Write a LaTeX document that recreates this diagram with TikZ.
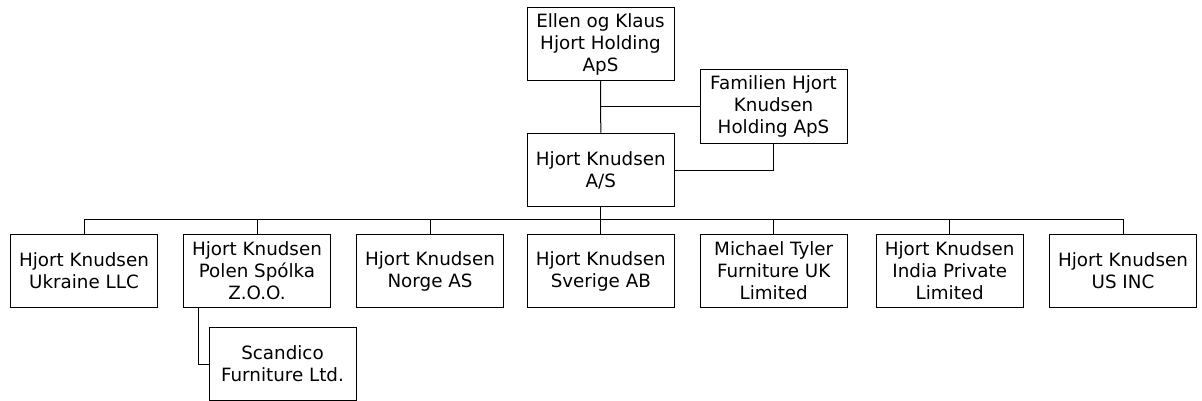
\documentclass[tikz,border=0pt]{standalone}
\usepackage{fontspec}
\setmainfont{DejaVu Sans}
\begin{document}
\begin{tikzpicture}[x=1pt,y=-1pt,
  orgbox/.style={draw=black, line width=1pt, fill=white, rectangle, minimum width=147pt, minimum height=73.5pt,
    inner sep=0pt, align=center, font=\fontsize{18.3}{22}\selectfont},
  link/.style={draw=black, line width=1pt}]
\useasboundingbox (0,0) rectangle (1202,401);
\node[orgbox] (ellen) at (600.5,44) {Ellen og Klaus\\Hjort Holding\\ApS};
\node[orgbox] (fam) at (773.5,106.7) {Familien Hjort\\Knudsen\\Holding ApS};
\node[orgbox] (as) at (600.8,170) {Hjort Knudsen\\A/S};
\node[orgbox] (c1) at (84,271) {Hjort Knudsen\\Ukraine LLC};
\node[orgbox] (c2) at (257,271) {Hjort Knudsen\\Polen Spólka\\Z.O.O.};
\node[orgbox] (c3) at (430,271) {Hjort Knudsen\\Norge AS};
\node[orgbox] (c4) at (600.8,271) {Hjort Knudsen\\Sverige AB};
\node[orgbox] (c5) at (773.7,271) {Michael Tyler\\Furniture UK\\Limited};
\node[orgbox] (c6) at (949.7,271) {Hjort Knudsen\\India Private\\Limited};
\node[orgbox] (c7) at (1123,271) {Hjort Knudsen\\US INC};
\node[orgbox] (scan) at (282.5,364) {Scandico\\Furniture Ltd.};
\coordinate (bus) at (600.8,219);
\coordinate (j1) at (600.8,106.7);
\draw[link] (ellen.south) -- (as.north);
\draw[link] (j1) -- (fam.west);
\draw[link] (fam.south) |- (as.east);
\draw[link] (as.south) -- (bus);
\foreach \c in {c1,c2,c3,c4,c5,c6,c7} {\draw[link] (bus) -| (\c.north);}
\draw[link] ([xshift=15pt]c2.south west) |- (scan.west);
\end{tikzpicture}
\end{document}
